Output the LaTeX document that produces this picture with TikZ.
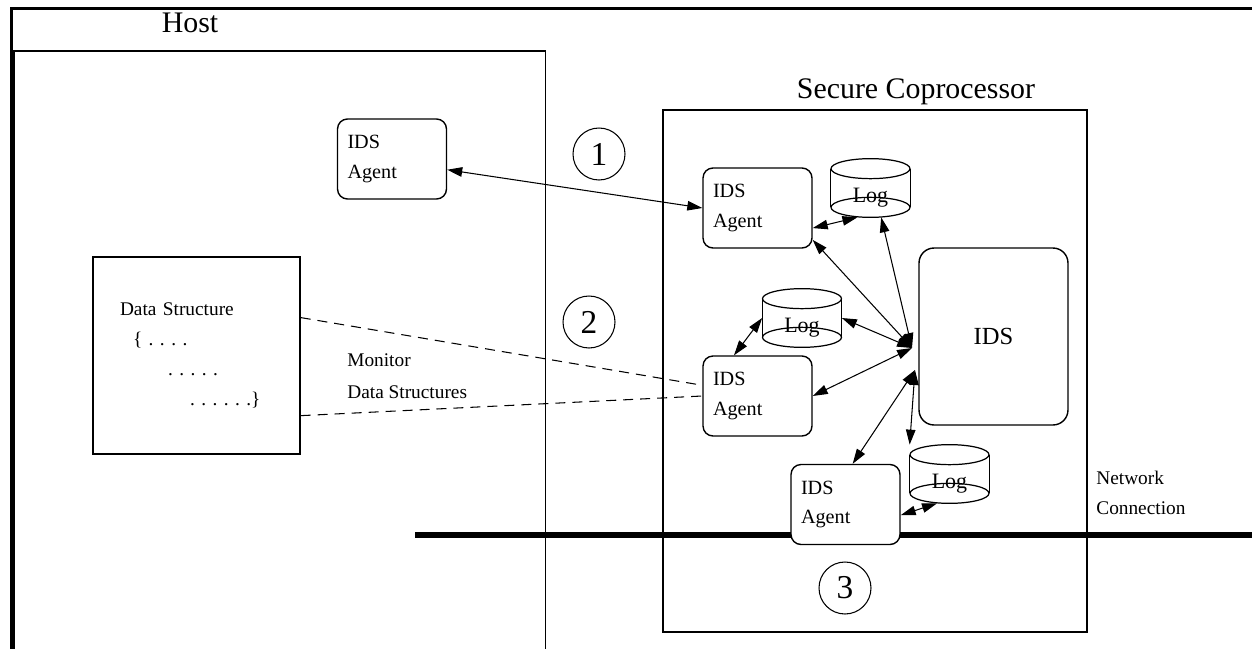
\documentclass[tikz,border=0pt]{standalone}
\usepackage{fontspec}
\setmainfont{Liberation Serif}
\usetikzlibrary{arrows.meta}
\frenchspacing
\begin{document}
\begin{tikzpicture}[x=0.02cm,y=-0.02cm,
  agent/.style={shape=rectangle,draw,fill=white,rounded corners=0.2cm,line width=0.8pt,
    minimum width=2.18cm,minimum height=1.6cm,inner xsep=0.2cm,text width=1.78cm,
    align=left,font=\fontsize{11.5}{17}\selectfont},
  logdb/.style={minimum width=1.58cm,minimum height=1.16cm,inner sep=0pt,
    text height=0.58cm,text depth=0cm,font=\fontsize{12.5}{14}\selectfont},
  num/.style={shape=circle,draw,line width=0.6pt,minimum size=1.04cm,inner sep=0pt,
    font=\fontsize{19}{22}\selectfont},
  plain/.style={font=\fontsize{11}{17}\selectfont,align=left,inner sep=0pt},
  link/.style={{Triangle[length=0.3cm,width=0.19cm]}-{Triangle[length=0.3cm,width=0.19cm]},
    line width=0.6pt},
  watch/.style={line width=0.6pt,dash pattern=on 0.2cm off 0.14cm}]
\useasboundingbox (0,0) rectangle (1252,649);

% frame, host and coprocessor
\draw[line width=1.5pt] (1252,8.7) -- (11.3,8.7) -- (11.3,649);
\draw[line width=1pt] (14.2,649) -- (14.2,51) -- (545.5,51) -- (545.5,649);
\draw[line width=0.9pt] (663,110) rectangle (1087,632);
\node(hosttitle) at (190,23) {\fontsize{17}{20}\selectfont Host};
\node(coproctitle) at (916,92) {\fontsize{17}{20}\selectfont Secure Coprocessor};

% network
\coordinate(netw) at (415,535);
\coordinate(nete) at (1252,535);
\draw[line width=0.13cm] (netw) -- (nete);

\node(hostagent) at (392,159)[agent]     {IDS\\Agent};
\node(agentA) at (757.5,208)[agent]      {IDS\\Agent};
\node(agentB) at (757.5,396)[agent]      {IDS\\Agent};
\node(agentC) at (845.5,504.5)[agent]    {IDS\\Agent};
\node(ids) at (993.5,336.5)[shape=rectangle,draw,rounded corners=0.3cm,line width=0.8pt,
  minimum width=2.98cm,minimum height=3.54cm,font=\fontsize{14}{16}\selectfont] {IDS};
\node(log1) at (870.5,188)[logdb]        {Log};
\node(log2) at (802,318)[logdb]          {Log};
\node(log3) at (949.5,474)[logdb]        {Log};
\foreach \l in {log1,log2,log3}{
  \draw[line width=0.7pt] ([yshift=-0.2cm]\l.north) ellipse (0.79cm and 0.2cm);
  \draw[line width=0.7pt] ([yshift=0.2cm]\l.south) ellipse (0.79cm and 0.2cm);
  \draw[line width=0.7pt] ([yshift=-0.2cm]\l.north west) -- ([yshift=0.2cm]\l.south west);
  \draw[line width=0.7pt] ([yshift=-0.2cm]\l.north east) -- ([yshift=0.2cm]\l.south east);
}

\node(ds) at (196.5,355.5)[shape=rectangle,draw,line width=0.8pt,minimum width=4.14cm,
  minimum height=3.94cm,inner xsep=0.54cm,text width=3.06cm,align=left,
  font=\fontsize{11}{17}\selectfont]
  {Data Structure\\\hspace*{0.26cm}\{ . . . .\\\hspace*{0.96cm}. . . . .\\\hspace*{1.4cm}. . . . . .\}};
\node(monitor) at (347,376)[plain,anchor=west] {Monitor\\[1pt]Data Structures};
\node(network) at (1096,493)[plain,anchor=west] {Network\\Connection};

\node(one) at (599,154)[num]   {1};
\node(two) at (589,322)[num]   {2};
\node(three) at (845,588)[num] {3};

\coordinate(hub) at (912,348);
\coordinate(hubb) at (915,370);

\path [link]
  (hostagent.-11) edge (agentA.west)
  (agentA.-20)    edge (log1.-114)
  (hub)           edge (agentA.-30)
  (hub)           edge (log1.-70)
  (hub)           edge (log2.east)
  (hub)           edge (agentB.east)
  (log2.west)     edge (agentB.120)
  (hubb)          edge (agentC.80)
  (hubb)          edge (log3.north west)
  (agentC.-11)    edge (log3.-113);

\draw[watch] (ds.20)  -- (agentB.169);
\draw[watch] (ds.-30) -- (agentB.west);

\end{tikzpicture}
\end{document}
